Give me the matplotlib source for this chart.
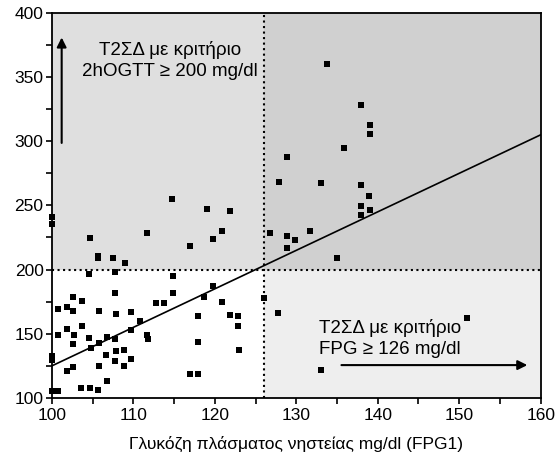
import numpy as np
import matplotlib
matplotlib.use("Agg")
import matplotlib.pyplot as plt

plt.rcParams['font.family'] = ['Liberation Sans', 'DejaVu Sans']

# fasting glucose (FPG1) vs 2h OGTT
fpg = [100, 100, 104.7, 105.6, 105.6, 107.5, 109.0, 104.6, 107.8, 111.7,
       114.8, 116.9, 119.0, 119.8, 120.9, 121.9, 114.9, 114.9, 119.8, 118.7,
       120.9, 112.8, 113.8, 107.7, 103.7, 102.6, 100.8, 101.9, 102.6, 105.8,
       107.9, 109.7, 110.8, 117.9, 121.9, 122.9, 122.8, 103.7, 101.8, 100.8,
       102.7, 104.6, 107.8, 106.8, 109.7, 111.7, 111.8, 102.6, 105.8, 104.8,
       117.9, 107.9, 108.9, 123.0, 106.7, 100, 100, 107.8, 109.7, 105.8,
       108.8, 102.6, 101.8, 106.8, 116.9, 117.9, 103.6, 104.7, 105.7, 100,
       100.7, 126.0,
       133.8, 138.0, 139.0, 139.0, 135.9, 128.8, 127.9, 133.0, 137.9, 138.9,
       138.0, 139.0, 138.0, 126.8, 128.8, 129.9, 131.7, 128.8, 135.0,
       127.7, 151.0, 133.0]
ogtt = [240.8, 235.3, 224.4, 210.4, 208.8, 208.8, 204.9, 196.3, 197.9, 228.3,
        254.8, 218.2, 247.0, 223.6, 229.8, 245.4, 194.8, 181.5, 187.0, 178.4,
        174.5, 173.7, 173.7, 181.5, 175.3, 178.4, 169.1, 170.6, 167.5, 167.5,
        165.2, 166.7, 159.7, 163.6, 164.4, 163.6, 155.8, 155.8, 153.5, 148.8,
        148.8, 146.5, 145.7, 147.2, 152.7, 148.8, 145.7, 141.8, 142.6, 138.7,
        143.4, 136.3, 137.1, 137.1, 133.2, 132.4, 129.3, 128.5, 130.1, 124.6,
        124.6, 123.9, 120.7, 113.0, 118.4, 118.4, 107.5, 107.5, 105.9, 105.1,
        105.1, 177.8,
        360.0, 328.1, 312.5, 305.5, 294.5, 287.5, 268.0, 267.3, 265.7, 257.1,
        249.3, 246.2, 242.3, 228.3, 226.0, 222.8, 229.9, 216.6, 208.8,
        165.9, 162.0, 121.7]

# regression line end points
fit_x = [100, 160]
fit_y = [125, 305]

fpg_cut = 126
ogtt_cut = 200
xlim = (100, 160)
ylim = (100, 400)

fig = plt.figure(figsize=(5.58, 4.59), dpi=100)
ax = fig.add_axes([0.093, 0.133, 0.876, 0.839])

# shaded quadrants
ax.fill_between([xlim[0], fpg_cut], ogtt_cut, ylim[1], color='#dfdfdf', lw=0, zorder=0)
ax.fill_between([fpg_cut, xlim[1]], ogtt_cut, ylim[1], color='#d0d0d0', lw=0, zorder=0)
ax.fill_between([fpg_cut, xlim[1]], ylim[0], ogtt_cut, color='#eeeeee', lw=0, zorder=0)

ax.axvline(fpg_cut, color='black', ls=':', lw=1.5, zorder=1)
ax.axhline(ogtt_cut, color='black', ls=':', lw=1.5, zorder=1)

ax.plot(fit_x, fit_y, color='black', lw=1.2, zorder=2)
ax.scatter(fpg, ogtt, marker='s', s=14, color='black', lw=0, zorder=3, clip_on=False)

ax.text(114.5, 363, 'Τ2ΣΔ με κριτήριο\n2hOGTT ≥ 200 mg/dl', ha='center', va='center',
        fontsize=13.5, linespacing=1.3)
ax.text(141.5, 146, 'Τ2ΣΔ με κριτήριο\nFPG ≥ 126 mg/dl', ha='center', va='center',
        fontsize=13.5, linespacing=1.3)
ax.annotate('', xy=(101.2, 383), xytext=(101.2, 296.5),
            arrowprops=dict(arrowstyle='-|>', color='black', lw=1.5, mutation_scale=14))
ax.annotate('', xy=(158.7, 125.6), xytext=(135.2, 125.6),
            arrowprops=dict(arrowstyle='-|>', color='black', lw=1.5, mutation_scale=14))

ax.set_xlim(*xlim)
ax.set_ylim(*ylim)
ax.set_xticks(np.arange(100, 161, 10))
ax.set_xticks(np.arange(100, 161, 5), minor=True)
ax.set_yticks(np.arange(100, 401, 50))
ax.set_yticks(np.arange(100, 401, 25), minor=True)
ax.tick_params(which='both', direction='out', length=4, width=1.2, labelsize=12.5)
ax.tick_params(axis='y', pad=2)
for s in ax.spines.values():
    s.set_linewidth(1.3)

ax.set_xlabel('Γλυκόζη πλάσματος νηστείας mg/dl (FPG1)', fontsize=12.5, labelpad=9)

fig.savefig('out.png', dpi=100)
